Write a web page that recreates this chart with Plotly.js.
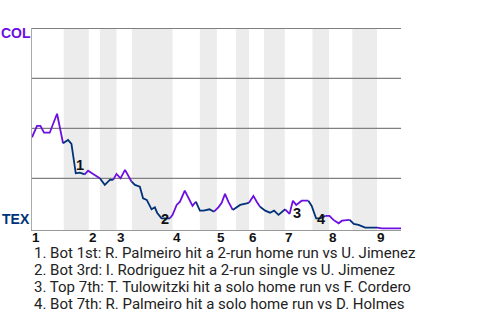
<!DOCTYPE html>
<html>
<head>
<meta charset="utf-8">
<script src="https://cdn.plot.ly/plotly-3.0.1.min.js"></script>
<style>html,body{margin:0;padding:0;background:#fff;}#chart{width:480px;height:320px;}</style>
</head>
<body>
<div id="chart"></div>
<script>
// Half-inning play positions (play number) and COL win probability (%)
const halfInnings = ["T1","B1","T2","B2","T3","B3","T4","B4","T5","B5","T6","B6","T7","B7","T8","B8","T9"];
const playX = [
  [0, 1.36, 2.28, 3.26, 4.8, 6.79, 8.42],
  [9.77, 10.69, 11.32, 11.86, 12.95, 14.3],
  [15.2, 16.56, 18.38],
  [19.73, 21.09, 21.99],
  [22.9, 24.0, 25.2, 27.0],
  [27.9, 29.23, 30.1, 31.1, 32.4, 33.3, 33.9, 35.1, 37.4],
  [38.1, 39.2, 40.1, 41.4, 42.3, 43.5, 44.4],
  [45.5, 46.5, 48.1, 49.3],
  [50.5, 51.4, 52.3, 53.2, 54.4],
  [55.3, 56.4, 58.2, 58.8],
  [60.0, 60.9, 61.8],
  [63.2, 64.5, 65.6, 66.8, 67.7, 68.6],
  [69.8, 70.7, 71.6, 73.1, 74.9],
  [75.8, 76.5, 77.0, 78.1, 79.5],
  [80.6, 81.7, 83.1, 84.0, 86.1],
  [87.2, 88.5, 90.3, 93.5],
  [94.8, 100]
];
const colWinPct = [
  [45.5, 51.2, 51.2, 47.8, 47.8, 57.3, 42.5],
  [44.2, 42.2, 34.2, 27.5, 27.8, 27.0],
  [28.8, 27.2, 25.0],
  [21.7, 24.2, 24.2],
  [27.2, 25.0, 29.2, 23.3],
  [21.7, 20.8, 15.0, 14.2, 9.5, 10.5, 7.8, 5.0, 5.0],
  [6.7, 11.7, 13.3, 18.8, 15.5, 11.2, 13.3],
  [8.8, 8.8, 9.5, 8.3],
  [10.5, 12.8, 17.2, 13.3, 9.2],
  [10.5, 11.7, 12.5, 12.8],
  [16.2, 13.3, 10.8],
  [8.8, 7.8, 8.8, 6.7, 8.3, 9.5],
  [7.2, 13.8, 11.7, 13.8, 13.8],
  [11.2, 7.5, 5.0, 5.0, 6.2],
  [6.2, 4.2, 2.5, 3.8, 4.2],
  [2.2, 1.7, 0.3, 0.3],
  [0, 0]
];
// Bottom half-inning spans (shaded)
const bottomStart = [8.6, 18.4, 27.1, 45.5, 55.3, 62.9, 76.0, 86.8];
const bottomEnd   = [15.4, 22.9, 38.1, 50.1, 58.8, 68.5, 80.5, 93.5];
// Inning start positions and labels
const inningStart = [0, 15.4, 22.9, 38.1, 50.1, 58.8, 68.5, 80.5, 93.5];
const inningLabels = ["1","2","3","4","5","6","7","8","9"];
// Key events
const eventX = [12.95, 36.0, 71.8, 78.4];
const eventY = [31.6, 4.5, 7.8, 4.6];
const eventLabels = ["1","2","3","4"];
const eventNotes = [
  "1. Bot 1st: R. Palmeiro hit a 2-run home run vs U. Jimenez",
  "2. Bot 3rd: I. Rodriguez hit a 2-run single vs U. Jimenez",
  "3. Top 7th: T. Tulowitzki hit a solo home run vs F. Cordero",
  "4. Bot 7th: R. Palmeiro hit a solo home run vs D. Holmes"
];
const teams = ["COL", "TEX"];
const gridValues = [25, 50, 75, 100];
const PURPLE = "#6c0fe0", NAVY = "#003278";

const traces = [];
for (let i = 0; i < halfInnings.length; i++) {
  let xs = playX[i].slice(), ys = colWinPct[i].slice();
  if (i > 0) {
    const px = playX[i-1], py = colWinPct[i-1];
    xs.unshift(px[px.length-1]); ys.unshift(py[py.length-1]);
  }
  traces.push({
    x: xs, y: ys, type: "scatter", mode: "lines", hoverinfo: "skip",
    line: {color: halfInnings[i][0] === "T" ? PURPLE : NAVY, width: 1.8}
  });
}

const shapes = bottomStart.map((s, i) => ({
  type: "rect", xref: "x", yref: "paper", x0: s, x1: bottomEnd[i], y0: 0, y1: 1,
  fillcolor: "#ececec", line: {width: 0}, layer: "below"
}));
gridValues.forEach(v => shapes.push({
  type: "line", xref: "paper", yref: "y", x0: 0, x1: 1, y0: v, y1: v,
  line: {color: "#808080", width: 1.2}, layer: "below"
}));

const annotations = [];
inningStart.forEach((x, i) => annotations.push({
  x: x, y: -0.036, xref: "x", yref: "paper", text: "<b>" + inningLabels[i] + "</b>", showarrow: false,
  xanchor: "left", yanchor: "middle", xshift: -1, borderpad: 0,
  font: {family: "Liberation Sans, Arial, sans-serif", size: 13.5, color: "#111"}
}));
eventX.forEach((x, i) => annotations.push({
  x: x, y: eventY[i], xref: "x", yref: "y", text: "<b>" + eventLabels[i] + "</b>", showarrow: false,
  xanchor: "center", yanchor: "middle", borderpad: 0,
  font: {family: "Liberation Sans, Arial, sans-serif", size: 14.5, color: "#111"}
}));
eventNotes.forEach((t, i) => annotations.push({
  x: 0.003, y: -0.116 - i * 0.0842, xref: "paper", yref: "paper", text: t, showarrow: false,
  xanchor: "left", yanchor: "middle", borderpad: 0,
  font: {family: "Roboto, Arial, sans-serif", size: 15, color: "#222"}
}));
annotations.push({
  x: -0.043, y: 0.975, xref: "paper", yref: "paper", text: "<b>" + teams[0] + "</b>", showarrow: false,
  xanchor: "center", yanchor: "middle",
  font: {family: "Liberation Sans, Arial, sans-serif", size: 14, color: PURPLE}
});
annotations.push({
  x: -0.043, y: 0.054, xref: "paper", yref: "paper", text: "<b>" + teams[1] + "</b>", showarrow: false,
  xanchor: "center", yanchor: "middle",
  font: {family: "Liberation Sans, Arial, sans-serif", size: 14, color: NAVY}
});

const layout = {
  width: 480, height: 320,
  margin: {l: 32, r: 79, t: 28, b: 90},
  paper_bgcolor: "#fff", plot_bgcolor: "rgba(0,0,0,0)",
  showlegend: false,
  xaxis: {range: [0, 100], showgrid: false, zeroline: false, showticklabels: false,
          ticks: "", showline: true, linecolor: "#999", linewidth: 1, mirror: false, fixedrange: true},
  yaxis: {range: [-0.85, 100.15], showticklabels: false, ticks: "",
          showgrid: false, zeroline: false,
          showline: true, linecolor: "#aaa", linewidth: 1, fixedrange: true},
  shapes: shapes,
  annotations: annotations
};

Plotly.newPlot("chart", traces, layout, {staticPlot: true, displayModeBar: false});
</script>
</body>
</html>
